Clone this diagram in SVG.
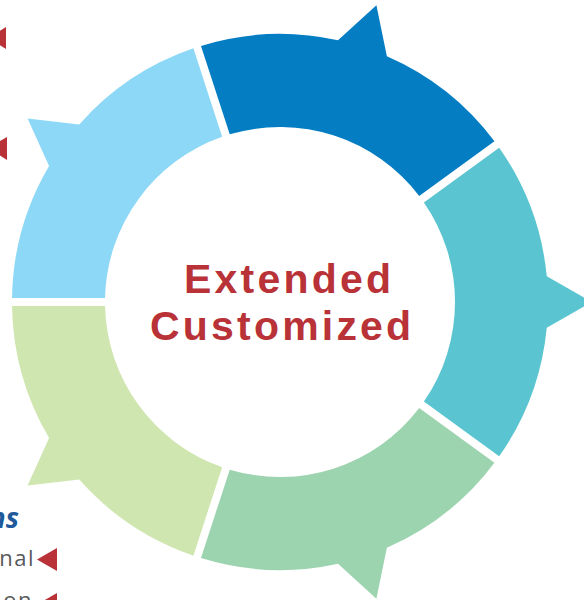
<svg xmlns="http://www.w3.org/2000/svg" width="584" height="600" viewBox="0 0 584 600">
<style>
.title{font-family:"Liberation Sans",Arial,sans-serif;font-weight:bold;font-size:41px;fill:#B83237;letter-spacing:3.2px}
.lbl{font-family:"Open Sans","Liberation Sans",sans-serif;font-size:22px;fill:#58595B;letter-spacing:1.5px}
.hd{font-family:"Open Sans","Liberation Sans",sans-serif;font-size:28px;font-weight:bold;font-style:italic;fill:#1F5A9A}
.mark{fill:#B83237}
</style>
<defs>
<path id="seg" d="M219.14,-154.29 A268,268 0 0 1 266.77,-25.69 L312,0 L266.77,25.69 A268,268 0 0 1 219.14,154.29 L143.89,99.61 A175,175 0 0 0 143.89,-99.61 Z"/>
</defs>
<rect width="584" height="600" fill="#FFFFFF"/>
<g id="ring">
<g id="seg-darkblue" transform="translate(280,302) rotate(288)"><use href="#seg" fill="#047DC3"/></g>
<g id="seg-teal" transform="translate(280,302) rotate(0)"><use href="#seg" fill="#5AC5D0"/></g>
<g id="seg-mint" transform="translate(280,302) rotate(72)"><use href="#seg" fill="#9DD4B0"/></g>
<g id="seg-lightgreen" transform="translate(280,302) rotate(144)"><use href="#seg" fill="#D0E6B0"/></g>
<g id="seg-lightblue" transform="translate(280,302) rotate(216)"><use href="#seg" fill="#8ED8F7"/></g>
</g>
<g id="center-label">
<text class="title" x="184" y="293">Extended</text>
<text class="title" x="150" y="340">Customized</text>
</g>
<g id="left-fragments">
<polygon class="mark" points="6,27 6,49 -12,38"/>
<polygon class="mark" points="7,137 7,160 -12,148"/>
<text class="hd" x="19" y="528" text-anchor="end">ns</text>
<text class="lbl" x="35" y="566" text-anchor="end">nal</text>
<polygon class="mark" points="57,548 57,571 37,559.5"/>
<text class="lbl" x="33" y="608" text-anchor="end">on</text>
<polygon class="mark" points="57,593 57,616 37,604.5"/>
</g>
</svg>
